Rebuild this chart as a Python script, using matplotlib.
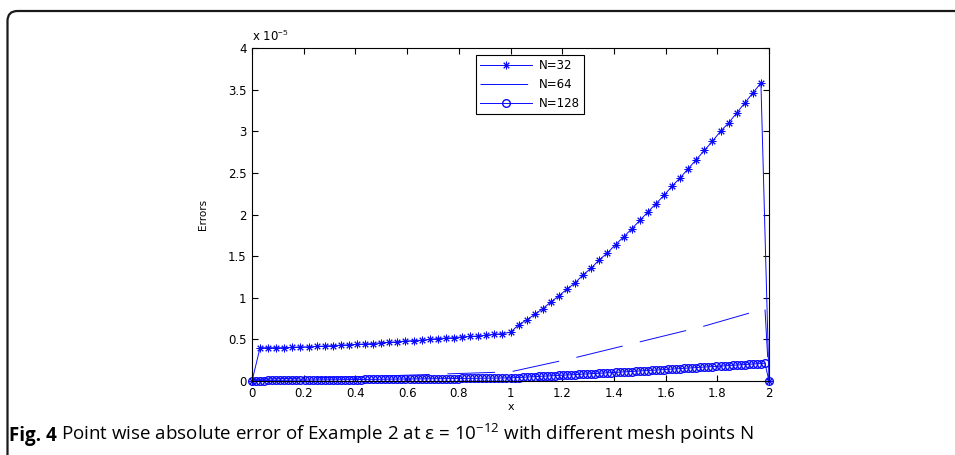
import numpy as np
import matplotlib
matplotlib.use("Agg")
import matplotlib.pyplot as plt
from matplotlib.patches import FancyBboxPatch

plt.rcParams['font.family'] = ['DejaVu Sans']
plt.rcParams['mathtext.fontset'] = 'custom'
plt.rcParams['mathtext.rm'] = 'Open Sans'
plt.rcParams['lines.scale_dashes'] = False

# errors in units of 1e-5
x32 = np.arange(65) / 32
err32 = [0, 0.40, 0.40, 0.40, 0.40, 0.405, 0.41, 0.41,
         0.415, 0.42, 0.425, 0.43, 0.435, 0.44, 0.445, 0.45,
         0.46, 0.465, 0.47, 0.48, 0.485, 0.49, 0.50, 0.51,
         0.515, 0.52, 0.53, 0.535, 0.54, 0.55, 0.56, 0.57,
         0.585, 0.675, 0.735, 0.80, 0.87, 0.95, 1.024, 1.105,
         1.18, 1.277, 1.357, 1.458, 1.538, 1.639, 1.73, 1.827,
         1.928, 2.03, 2.13, 2.23, 2.34, 2.44, 2.55, 2.66,
         2.77, 2.88, 3.0, 3.10, 3.22, 3.34, 3.46, 3.58, 0]

# N=64: polyline breakpoints
x64 = [0, 0.015625, 0.25, 0.5, 0.75, 1.0, 1.25, 1.5, 1.75, 1.984375, 2.0]
err64 = [0, 0.02, 0.04, 0.06, 0.085, 0.11, 0.28, 0.47, 0.66, 0.87, 0]

x128 = np.arange(129) / 64
err128 = [0,
          0.005, 0.006, 0.006, 0.007, 0.007, 0.008, 0.008, 0.009,
          0.009, 0.010, 0.010, 0.011, 0.011, 0.012, 0.012, 0.013,
          0.013, 0.014, 0.014, 0.015, 0.015, 0.016, 0.016, 0.017,
          0.017, 0.018, 0.018, 0.019, 0.019, 0.020, 0.020, 0.021,
          0.021, 0.022, 0.022, 0.023, 0.023, 0.024, 0.024, 0.025,
          0.025, 0.026, 0.026, 0.027, 0.027, 0.028, 0.028, 0.029,
          0.029, 0.030, 0.030, 0.031, 0.031, 0.032, 0.032, 0.033,
          0.033, 0.034, 0.034, 0.035, 0.035, 0.036, 0.036, 0.037,
          0.040, 0.042, 0.045, 0.047, 0.050, 0.052, 0.055, 0.057,
          0.060, 0.062, 0.065, 0.067, 0.070, 0.072, 0.075, 0.077,
          0.080, 0.082, 0.085, 0.088, 0.090, 0.093, 0.096, 0.098,
          0.101, 0.104, 0.106, 0.109, 0.112, 0.114, 0.117, 0.120,
          0.123, 0.126, 0.128, 0.131, 0.134, 0.137, 0.140, 0.143,
          0.146, 0.149, 0.152, 0.155, 0.158, 0.161, 0.164, 0.167,
          0.170, 0.173, 0.176, 0.179, 0.182, 0.185, 0.188, 0.191,
          0.194, 0.197, 0.200, 0.204, 0.207, 0.210, 0.214,
          0]

xticks = [0, 0.2, 0.4, 0.6, 0.8, 1, 1.2, 1.4, 1.6, 1.8, 2]
xticklabels = ['0', '0.2', '0.4', '0.6', '0.8', '1', '1.2', '1.4', '1.6', '1.8', '2']
yticks = [0, 0.5, 1, 1.5, 2, 2.5, 3, 3.5, 4]
yticklabels = ['0', '0.5', '1', '1.5', '2', '2.5', '3', '3.5', '4']

W, H = 955, 455
fig = plt.figure(figsize=(W / 100, H / 100), dpi=100)

# rounded frame around figure (open to the right and bottom), in inches
frame = FancyBboxPatch((0.075, -1.0), 20, (H - 11) / 100 + 1.0,
                       boxstyle="round,pad=0,rounding_size=0.1",
                       transform=fig.dpi_scale_trans, fill=False,
                       edgecolor='#1a1a1a', linewidth=1.6)
fig.add_artist(frame)

ax = fig.add_axes([252 / W, 1 - 381 / H, 517 / W, 333 / H])

blue = '#0a0aff'
ax.plot(x32, err32, color=blue, lw=0.7, marker=(8, 2, 0), ms=5.5, mew=0.7,
        label='N=32', clip_on=False)
ax.plot(x64, err64, color=blue, lw=0.7, linestyle=(0, (34.3, 12.7)), label='N=64')
ax.plot(x128, err128, color=blue, lw=0.7, marker='o', ms=5.5, mfc='none', mew=1.0,
        label='N=128', clip_on=False)

ax.set_xlim(0, 2)
ax.set_ylim(0, 4)
ax.set_xticks(xticks)
ax.set_xticklabels(xticklabels)
ax.set_yticks(yticks)
ax.set_yticklabels(yticklabels)
ax.tick_params(direction='in', top=True, right=True, length=4, width=0.8,
               labelsize=8.5, pad=4)
for s in ax.spines.values():
    s.set_linewidth(0.8)
    s.set_zorder(3)

ax.set_xlabel('x', fontsize=8, labelpad=2)
ax.set_ylabel('Errors', fontsize=7.5, labelpad=14)
ax.text(0, 1.012, r'x 10$^{-5}$', transform=ax.transAxes, fontsize=8.5,
        ha='left', va='bottom')

leg = ax.legend(loc='upper left', bbox_to_anchor=(0.433, 0.979), fontsize=8.5,
                handlelength=4.4, fancybox=False, framealpha=1, edgecolor='black',
                borderpad=0.35, labelspacing=0.5, handletextpad=0.6,
                borderaxespad=0)
leg.get_frame().set_linewidth(0.8)

# caption
t1 = fig.text(9 / W, 1 - 441 / H, 'Fig. 4', fontsize=13.5, fontweight='bold',
              family='Open Sans', va='baseline', ha='left')
ax.annotate(r'Point wise absolute error of Example 2 at ε = 10$^{-12}$ with different mesh points N',
            xy=(1, 0), xycoords=t1, xytext=(3, 0), textcoords='offset points',
            fontsize=13.5, family='Open Sans', va='bottom', ha='left',
            annotation_clip=False)

fig.savefig('out.png', dpi=100)
